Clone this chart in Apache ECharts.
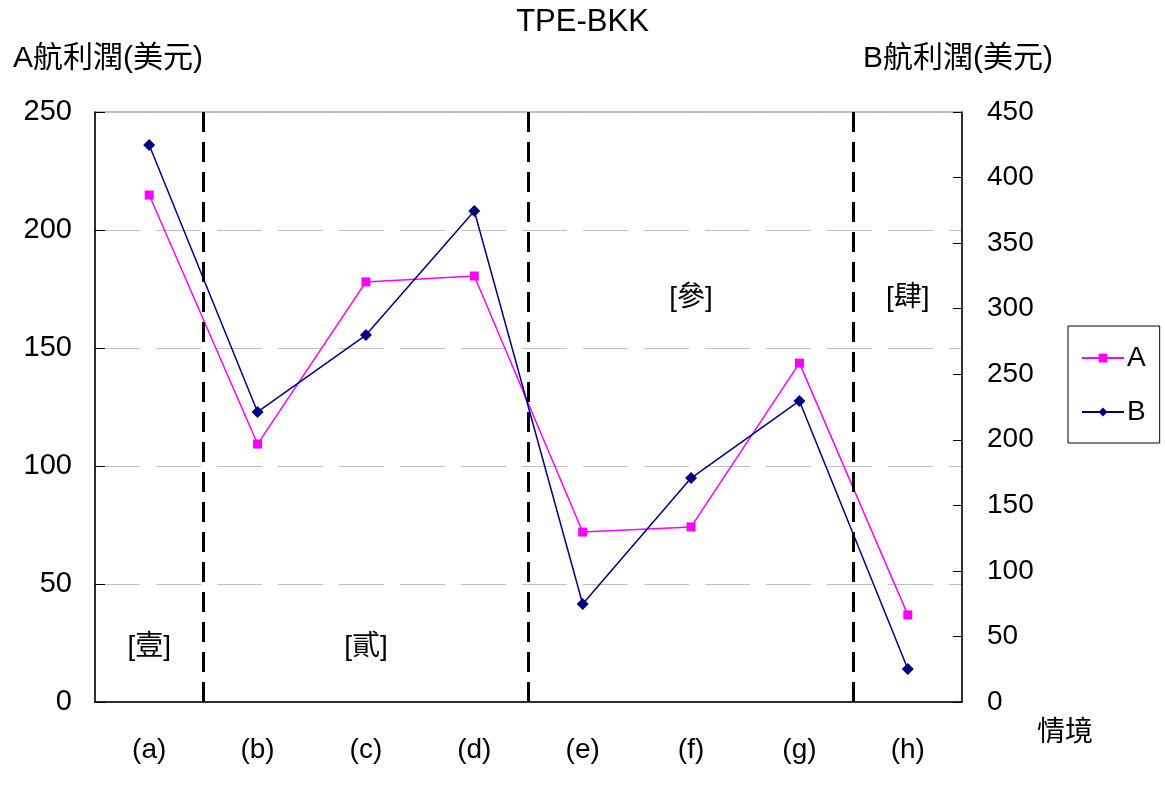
<!DOCTYPE html>
<html>
<head>
<meta charset="utf-8">
<title>TPE-BKK</title>
<script src="https://cdn.jsdelivr.net/npm/echarts@6/dist/echarts.min.js"></script>
<style>
  html, body { margin: 0; padding: 0; background: #ffffff; }
  #chart { width: 1165px; height: 811px; }
</style>
</head>
<body>
<div id="chart"></div>
<script>
// Scenario categories along the horizontal axis
const categories = ['(a)', '(b)', '(c)', '(d)', '(e)', '(f)', '(g)', '(h)'];

// Profit per scenario (USD)
const profitA = [214.8, 109.3, 178, 180.5, 72, 74.2, 143.6, 36.9];   // left axis
const profitB = [424.8, 221.2, 279.9, 374.5, 74.7, 170.8, 229.6, 25.2]; // right axis

// Axis tick ranges
const leftAxisMax = 250, leftAxisStep = 50;
const rightAxisMax = 450, rightAxisStep = 50;

// Group dividers, in category-slot units (boundary between slots)
const dividerAt = [1, 4, 7];

// Group captions: text, slot position, height in left-axis units
const groupNames = ['[壹]', '[貳]', '[參]', '[肆]'];
const groupSlot = [0.5, 2.5, 5.5, 7.5];
const groupLevel = [23, 23, 171, 171];

const FONT = '"Liberation Sans", Arial, "Noto Sans CJK TC", sans-serif';

const chart = echarts.init(document.getElementById('chart'), null, { renderer: 'canvas' });

const option = {
  backgroundColor: '#ffffff',
  animation: false,
  textStyle: { fontFamily: FONT, color: '#000' },
  title: {
    text: 'TPE-BKK',
    left: 'center',
    top: 2,
    textStyle: { fontFamily: FONT, fontSize: 31, fontWeight: 'normal', color: '#000' }
  },
  legend: {
    orient: 'vertical',
    left: 1068,
    top: 326,
    data: ['A', 'B'],
    itemWidth: 42,
    itemHeight: 11,
    itemGap: 26,
    padding: [18, 14, 17, 13],
    borderColor: '#000',
    borderWidth: 1,
    textStyle: { fontFamily: FONT, fontSize: 28, color: '#000', padding: [0, 0, 0, -2] }
  },
  grid: {
    left: 95, right: 203, top: 112, bottom: 109,
    show: true,
    borderColor: '#808080',
    borderWidth: 1,
    backgroundColor: 'transparent'
  },
  xAxis: [
    {
      type: 'category',
      data: categories,
      boundaryGap: true,
      name: '情境',
      nameLocation: 'end',
      nameGap: 75,
      nameTextStyle: { fontFamily: FONT, fontSize: 28, color: '#000', verticalAlign: 'top', padding: [17, 0, 0, 0] },
      axisLine: { lineStyle: { color: '#000', width: 1.5 } },
      axisTick: { inside: true, length: 9, lineStyle: { color: '#000' } },
      axisLabel: { fontFamily: FONT, fontSize: 28, color: '#000', margin: 34 },
      splitLine: { show: false }
    },
    {
      // slot-unit axis used only to place dividers and group captions
      type: 'value',
      min: 0,
      max: categories.length,
      show: false,
      splitLine: { show: false }
    }
  ],
  yAxis: [
    {
      type: 'value',
      min: 0,
      max: leftAxisMax,
      interval: leftAxisStep,
      position: 'left',
      name: 'A航利潤(美元)',
      nameLocation: 'end',
      nameGap: 38,
      nameTextStyle: { fontFamily: FONT, fontSize: 30, color: '#000', padding: [0, 0, 0, 26] },
      axisLine: { show: true, lineStyle: { color: '#000', width: 1.5 } },
      axisTick: { show: true, inside: true, length: 10, lineStyle: { color: '#000' } },
      axisLabel: { fontFamily: FONT, fontSize: 29, color: '#000', margin: 23 },
      splitLine: { show: true, lineStyle: { color: '#c0c0c0', width: 1, type: [45, 16] } }
    },
    {
      type: 'value',
      min: 0,
      max: rightAxisMax,
      interval: rightAxisStep,
      position: 'right',
      name: 'B航利潤(美元)',
      nameLocation: 'end',
      nameGap: 38,
      nameTextStyle: { fontFamily: FONT, fontSize: 30, color: '#000', padding: [0, 8, 0, 0] },
      axisLine: { show: true, lineStyle: { color: '#000', width: 1.5 } },
      axisTick: { show: true, inside: true, length: 9, lineStyle: { color: '#000' } },
      axisLabel: { fontFamily: FONT, fontSize: 28, color: '#000', margin: 25 },
      splitLine: { show: false }
    }
  ],
  series: [
    {
      name: 'groups',
      type: 'scatter',
      xAxisIndex: 1,
      yAxisIndex: 0,
      silent: true,
      symbolSize: 0,
      z: 1,
      itemStyle: { opacity: 1 },
      data: groupNames.map((t, i) => ({ value: [groupSlot[i], groupLevel[i]], name: t })),
      label: {
        show: true,
        position: 'inside',
        formatter: p => p.name,
        fontFamily: FONT,
        fontSize: 28,
        color: '#000'
      },
      markLine: {
        silent: true,
        symbol: ['none', 'none'],
        label: { show: false },
        lineStyle: { color: '#000', width: 3, type: [20, 10], opacity: 1 },
        data: dividerAt.map(x => ({ xAxis: x }))
      }
    },
    {
      name: 'A',
      type: 'line',
      xAxisIndex: 0,
      yAxisIndex: 0,
      data: profitA,
      symbol: 'rect',
      symbolSize: 9,
      z: 3,
      itemStyle: { color: '#ff00ff' },
      lineStyle: { color: '#ff00ff', width: 1.5 }
    },
    {
      name: 'B',
      type: 'line',
      xAxisIndex: 0,
      yAxisIndex: 1,
      data: profitB,
      symbol: 'diamond',
      symbolSize: 12,
      z: 4,
      itemStyle: { color: '#000080' },
      lineStyle: { color: '#000080', width: 1.5 }
    }
  ]
};

chart.setOption(option);
</script>
</body>
</html>
